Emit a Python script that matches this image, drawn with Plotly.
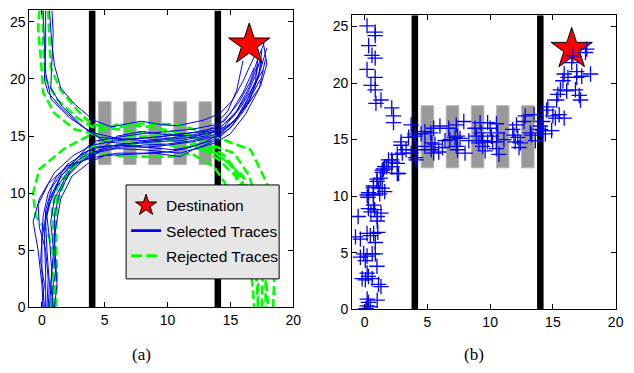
import plotly.graph_objects as go

# ---------------- data ----------------
wall_x = [4, 14]
crossing_x = [5, 7, 9, 11, 13]
crossing_y = [12.5, 18]
dest_x = [16.5]
dest_y = [23]

sel_x = [
    [0.6, 0.8, 1.0, 1.5, 2.6, 4.1, 5.5, 7.9, 9.5, 10.8, 12.9, 14.2, 15.2, 16.0, 16.7, 17.2],
    [0.3, 0.3, 0.2, 0.5, 1.5, 3.0, 4.0, 6, 8, 10, 12, 14, 15.3, 16.3, 17.0, 17.4],
    [0.8, 0.9, 0.8, 0.7, 1.6, 3.6, 4.5, 6.5, 9, 11, 13, 14.5, 15.7, 16.6, 17.1, 17.7],
    [0.1, 0.2, 0.3, 0.74, 2.2, 4.1, 5, 7, 9, 11, 13, 14.5, 15.8, 16.8, 17.6],
    [0.1, 0.0, -0.3, -0.7, -0.2, 1.0, 2.5, 4, 6, 8, 10, 12, 13.8, 15, 16.0, 16.9],
    [0.3, 0.3, 0.2, 0.3, 0.8, 2, 4, 6, 8, 10, 12, 14, 15.5, 16.5, 17.3, 17.9],
    [0.5, 0.6, 0.4, 0.3, 0.6, 1.5, 3, 4, 6, 8, 10, 11.5, 13, 14.2, 15.5, 16.5, 17.4],
    [0.8, 0.9, 1.1, 0.9, 0.7, 1.0, 1.8, 3.2, 4.2, 6, 8, 10, 12, 14, 15.2, 16.4, 17.4, 17.9, 17.6],
    [0.2, 0.0, 0.0, 0.1, 0.5, 1.2, 2.6, 4.0, 6, 8, 10, 12, 13.8, 14.8, 15.5, 16.0],
    [0.6, 0.8, 0.6, 0.4, 0.8, 1.6, 3.0, 4.1, 6, 8, 10, 12, 14, 15.5, 16.5, 17.2],
    [1.0, 1.2, 1.1, 1.0, 1.0, 1.4, 2.2, 3.6, 4.5, 6.5, 8.5, 10.5, 12, 13.5, 15, 16.2, 17.0, 17.5],
    [0.4, 0.5, 0.3, -0.2, -0.3, 0.5, 2.0, 4.0, 6, 8, 10, 11, 12.5, 14, 15.2, 16.2, 17.0, 17.2],
    [0.9, 0.7, 0.9, 1.1, 1.5, 2.4, 3.8, 5, 7, 9, 11, 12, 13.8, 15.0, 16.2, 17.3, 17.8],
    [0.0, 0.2, -0.1, 0.0, 0.4, 1.2, 2.6, 4.2, 6, 8, 10, 12, 14, 15.3, 16.5, 17.3, 17.5],
]
sel_y = [
    [26, 23, 21.2, 19.2, 17.8, 16.4, 15.8, 16.3, 16.0, 15.9, 16.4, 17.0, 18.2, 19.8, 21.5, 22.6],
    [26, 23, 19.9, 18.8, 17.5, 16.0, 15.3, 14.8, 14.6, 14.8, 15.1, 15.6, 16.8, 18.6, 20.3, 21.8],
    [26, 24, 21.5, 19.2, 17.6, 15.5, 14.9, 14.7, 14.9, 15.2, 15.4, 16.3, 18.0, 19.8, 21.5, 23.2],
    [26, 22.5, 20.5, 18.2, 16.6, 15.2, 14.5, 14.3, 14.5, 14.6, 15.0, 15.8, 17.5, 19.3, 20.8],
    [0, 2, 5, 7.5, 9.5, 11.8, 13.3, 14.2, 14.6, 14.8, 15.0, 15.3, 15.7, 17.0, 18.8, 21.0],
    [0, 3, 6, 8.5, 10.5, 12.5, 13.9, 14.2, 14.0, 14.2, 14.5, 15.0, 16.6, 18.5, 20.5, 22.7],
    [0, 2, 5, 7.5, 9.5, 11.5, 13, 13.6, 13.9, 13.8, 13.6, 13.9, 14.5, 15.2, 16.5, 18.2, 20],
    [0, 2, 3, 5, 7.5, 9.5, 11.2, 12.8, 13.5, 14.0, 14.2, 14.3, 14.6, 15.2, 16.2, 17.8, 19.4, 21.3, 23.3],
    [0, 3, 6, 8, 10, 11.5, 12.8, 14.5, 14.9, 15.2, 15.4, 15.6, 16.0, 17.2, 19.0, 21.6],
    [0, 3, 6, 8, 9.8, 11.6, 13.3, 14.0, 14.2, 14.5, 14.7, 14.9, 15.5, 17.2, 19.3, 21.3],
    [0, 2, 4, 6, 8, 10, 11.8, 13.2, 13.8, 14.2, 14.0, 13.8, 14.1, 14.6, 15.7, 17.4, 19.5, 21.5],
    [0, 2.5, 5, 7, 9, 10.8, 12.4, 13.1, 13.5, 13.5, 13.6, 13.5, 14.0, 14.7, 16.0, 17.8, 19.8, 22.0],
    [0, 2, 4.5, 7, 9.5, 11.5, 12.7, 13.3, 13.4, 13.5, 13.2, 13.8, 14.4, 15.2, 16.9, 19.2, 21.8],
    [0, 2, 4, 6, 8.5, 10.6, 12.5, 13.3, 15.0, 15.4, 15.1, 15.0, 15.4, 16.3, 18.0, 20.5, 22.5],
]

rej_x = [
    [-0.2, -0.3, -0.05, 0.1, 1.0, 2.6, 4.0, 6, 8, 10.8, 12.4, 13.9, 15.0, 16.6, 17.9, 18.6, 18.5, 18.4],
    [0.05, 0.1, 0.3, 1.2, 2.8, 4, 6, 8, 10, 12, 13.5, 15.3, 16.5, 17.4, 17.8, 17.8],
    [0.5, 0.6, 0.7, 1.5, 2.8, 4.0, 6, 8, 10, 12, 13.2, 14.5, 15.8, 16.8, 17.2, 17.2],
    [1.0, 1.1, 0.9, 0.5, -0.5, -0.7, -0.2, 1.8, 4.0, 6, 8, 10, 12, 13.9, 16.0, 17.0, 17.6, 17.5],
    [0.9, 1.1, 1.0, 0.8, 1.2, 2.5, 4, 6.6, 10.3, 11.85, 13.7, 14.5, 15.8, 16.6, 16.9],
    [0.7, 0.9, 1.0, 0.9, 1.3, 2.4, 4, 6, 8, 10, 12, 13.5, 15, 16.3, 17.3, 17.8, 18.0],
    [1.1, 1.2, 1.1, 1.2, 2.0, 3.5, 4.5, 7, 9, 11, 12.5, 14, 15.4, 16.5, 17.0, 17.2],
]
rej_y = [
    [26, 24.4, 21.3, 18.8, 17.0, 15.6, 15.2, 16.0, 16.1, 16.0, 15.5, 14.9, 14.5, 13.8, 10.9, 7, 3, 0],
    [26, 23, 20, 18.2, 16.6, 15.8, 15.6, 15.3, 15.2, 14.9, 14.2, 13.5, 11.5, 8, 4, 0],
    [26, 23.5, 21, 19, 17.3, 16.0, 15.8, 15.9, 15.5, 15.0, 14.3, 13.3, 11.5, 8, 4, 0],
    [0, 2, 4.6, 6.5, 8, 10, 12.1, 13.9, 15.2, 14.6, 14.4, 14.2, 14.0, 13.5, 11.5, 8, 4, 0],
    [0, 3, 6, 8.5, 10.5, 12.5, 13.6, 13.2, 13.2, 13.5, 12.3, 11, 8, 4, 0],
    [0, 2.5, 5, 7.5, 10, 12.2, 14.0, 14.2, 14.4, 14.7, 14.4, 13.8, 12.5, 10, 6, 3, 0],
    [0, 3, 6, 9, 11.8, 13.5, 14.5, 14.9, 15.0, 14.6, 14.0, 13.0, 11.5, 8, 4, 0],
]

pts_x = [0.19, 0.84, 0.84, 0.32, 0.58, 0.84, 0.19, 0.84, 0.5, 0.84, 0.9, 1.3, 2.16, 2.3, 2.3,
         3.7, 4.0, 4.0, 3.5, 4.1, 4.05, 4.1, 4.5, 4.8, 2.9, 3.3, 3.7, 3.0, 2.6, 2.9, 2.16, 2.16,
         1.76, 1.5, 1.4, 2.6, 2.7, 1.25, 1.0, 0.7, 1.4, 1.6, 0.2,
         5.26, 5.5, 6.0, 5.35, 5.6, 5.3, 5.5, 5.9, 6.2, 6.7, 6.8, 6.4, 7.2, 7.3, 7.9, 7.3, 7.4,
         7.4, 7.6, 8.3, 8.0, 8.8, 8.9, 9.1, 9.2, 9.3, 9.4, 9.4, 9.6, 9.8, 10.0, 10.1, 10.2, 9.8,
         10.5, 10.6, 10.5, 10.5, 10.7, 11.1, 11.8, 11.9, 12.1, 12.0, 12.2, 12.3, 12.4, 12.7,
         12.8, 13.2, 13.3, 13.5, 13.6, 4.8,
         14.0, 14.0, 14.2, 14.2, 14.5, 14.6, 14.4, 14.9, 15.0, 15.2, 15.3, 15.4, 15.6, 15.5,
         15.9, 15.8, 15.9, 16.1, 16.2, 16.5, 16.6, 16.8, 16.9, 16.9, 17.1, 17.2, 17.3, 17.6,
         17.7, 18.0,
         -0.52, -0.73, -0.34, 0.19, 0.45, 0.72, 1.05, 0.85, 0.32, 0.26, 0.7, 1.1, 1.2, 0.7,
         0.3, 0.5, 0.8, 1.0, 1.3, 1.0, 0.7, 0.98, 1.4, 1.6, 1.9, 2.2, 2.6, -0.34, -0.08, 0.19,
         0.6, 0.85, 0.05, 0.98, -0.2, 0.06, 0.3, 0.6, 0.2, 1.1, 1.3, 0.2, 0.3, 0.2, 0.1, 1.0,
         0.45]
pts_y = [25.05, 24.5, 24.2, 23.3, 22.45, 22.2, 21.2, 20.5, 19.8, 19.4, 18.2, 18.5, 17.8, 17.1,
         16.5, 16.3, 15.5, 15.3, 15.2, 14.1, 13.4, 13.2, 15.5, 14.4, 14.8, 14.1, 13.8, 13.8,
         13.7, 14.5, 13.2, 12.6, 12.6, 12.4, 12.1, 12.9, 12.0, 11.6, 11.3, 10.8, 10.7, 10.4,
         10.1,
         15.6, 16.0, 16.2, 14.7, 14.6, 14.1, 13.8, 13.9, 14.3, 16.0, 15.0, 14.9, 15.2, 16.3,
         16.6, 14.4, 14.1, 15.3, 15.1, 14.9, 13.8, 16.0, 15.3, 14.7, 16.5, 15.6, 14.4, 14.9,
         14.0, 16.5, 16.0, 15.3, 14.8, 14.8, 16.4, 15.6, 14.8, 14.2, 13.7, 15.0, 15.9, 15.4,
         16.3, 14.8, 15.2, 14.3, 14.7, 16.6, 17.1, 15.6, 15.4, 17.2, 14.9, 15.7,
         15.9, 16.2, 16.6, 15.8, 17.6, 17.9, 15.5, 15.8, 17.1, 16.9, 18.5, 19.0, 19.4, 17.2,
         16.9, 20.2, 20.8, 19.3, 20.5, 21.8, 22.4, 19.4, 20.5, 21.0, 18.9, 18.5, 20.6, 22.7,
         23.0, 20.8,
         8.2, 6.4, 6.2, 6.7, 6.5, 6.7, 6.8, 5.9, 10.3, 9.9, 10.1, 10.7, 10.2, 9.2, 8.9, 8.6,
         8.8, 8.2, 8.5, 7.8, 10.9, 11.5, 12.3, 12.6, 13.2, 13.0, 12.0, 4.6, 4.9, 4.7, 4.9, 4.9,
         4.3, 3.8, 2.7, 2.6, 2.9, 2.7, 3.2, 2.2, 2.0, 0.9, 0.6, 0.3, 0.05, 0.8, 0.2]

x_ticks = [0, 5, 10, 15, 20]
y_ticks = [0, 5, 10, 15, 20, 25]
legend_names = ["Destination", "Selected Traces", "Rejected Traces"]

# ---------------- style ----------------
BLUE = "#0000ff"
GREEN = "#00ff00"
W, H = 634, 373
FONT = "Liberation Sans, Arial, sans-serif"
SERIF = "Liberation Serif, Times New Roman, serif"

fig = go.Figure()

# panel (a): rejected traces (green dashed)
for xs, ys in zip(rej_x, rej_y):
    fig.add_trace(go.Scatter(
        x=xs, y=ys, mode="lines", xaxis="x", yaxis="y",
        line=dict(color=GREEN, width=2.6, dash="9px,4px"),
        showlegend=False, hoverinfo="skip"))

# panel (a): selected traces (blue)
for xs, ys in zip(sel_x, sel_y):
    fig.add_trace(go.Scatter(
        x=xs, y=ys, mode="lines", xaxis="x", yaxis="y",
        line=dict(color=BLUE, width=1),
        showlegend=False, hoverinfo="skip"))

# destination star in (a)
fig.add_trace(go.Scatter(
    x=dest_x, y=dest_y, mode="markers", xaxis="x", yaxis="y",
    marker=dict(symbol="star", size=31, color="#ff0000",
                line=dict(color="black", width=1)),
    name=legend_names[0], legendgroup="g1", showlegend=True))

# legend-only samples (no data points) with legend-style widths
fig.add_trace(go.Scatter(
    x=[None], y=[None], mode="lines", xaxis="x", yaxis="y",
    line=dict(color=BLUE, width=2.6),
    name=legend_names[1], legendgroup="g2", showlegend=True))
fig.add_trace(go.Scatter(
    x=[None], y=[None], mode="lines", xaxis="x", yaxis="y",
    line=dict(color=GREEN, width=3, dash="11px,4px"),
    name=legend_names[2], legendgroup="g3", showlegend=True))

# panel (b): destination then points
fig.add_trace(go.Scatter(
    x=dest_x, y=dest_y, mode="markers", xaxis="x2", yaxis="y2",
    marker=dict(symbol="star", size=31, color="#ff0000",
                line=dict(color="black", width=1)),
    showlegend=False))
fig.add_trace(go.Scatter(
    x=pts_x, y=pts_y, mode="markers", xaxis="x2", yaxis="y2",
    marker=dict(symbol="cross-thin", size=11, color=BLUE,
                line=dict(color=BLUE, width=1.3)),
    showlegend=False))

# walls and crossings as shapes (below traces)
shapes = []
for xr, yr in (("x", "y"), ("x2", "y2")):
    for cx in crossing_x:
        shapes.append(dict(type="rect", xref=xr, yref=yr, layer="below",
                           x0=cx - 0.5, x1=cx + 0.5, y0=crossing_y[0], y1=crossing_y[1],
                           fillcolor="#999999", line=dict(color="#b5b5b5", width=1)))
    for wx in wall_x:
        shapes.append(dict(type="rect", xref=xr, yref=yr, layer="below",
                           x0=wx - 0.26, x1=wx + 0.26, y0=0, y1=26,
                           fillcolor="black", line=dict(width=0)))

# legend box (drawn above the traces, legend text sits on top of it)
LEG_L, LEG_R, LEG_T, LEG_B = 127.7, 282.7, 189, 285
shapes.append(dict(type="rect", xref="paper", yref="paper", layer="above",
                   x0=LEG_L / W, x1=LEG_R / W, y0=1 - LEG_B / H, y1=1 - LEG_T / H,
                   fillcolor="#e6e6e6", line=dict(color="black", width=1)))


def ax(domain, anchor, ticks_vals, rng):
    return dict(domain=domain, anchor=anchor, range=rng, tickvals=ticks_vals,
                ticks="inside", ticklen=5, tickcolor="black", tickwidth=1,
                showline=True, linecolor="black", linewidth=1, mirror="ticks",
                showgrid=False, zeroline=False,
                tickfont=dict(family=FONT, size=14, color="black"),
                fixedrange=True)


fig.update_layout(
    width=W, height=H, autosize=False,
    margin=dict(l=0, r=0, t=0, b=0),
    paper_bgcolor="white", plot_bgcolor="white",
    shapes=shapes,
    xaxis=ax([29.7 / W, 297 / W], "y", x_ticks, [-1, 20]),
    yaxis=ax([1 - 314 / H, 1 - 10.7 / H], "x", y_ticks, [0, 26]),
    xaxis2=ax([356.6 / W, 623.5 / W], "y2", x_ticks, [-1, 20]),
    yaxis2=ax([1 - 316 / H, 1 - 15.5 / H], "x2", y_ticks, [0, 26]),
    legend=dict(x=LEG_L / W, y=1 - 193 / H, xanchor="left", yanchor="top",
                bgcolor="rgba(0,0,0,0)", borderwidth=0,
                font=dict(family=FONT, size=15.5, color="black"),
                tracegroupgap=2, traceorder="grouped", itemwidth=30),
    annotations=[
        dict(text="(a)", x=143 / W, y=1 - 362 / H, xref="paper", yref="paper",
             xanchor="center", yanchor="middle", showarrow=False,
             font=dict(family=SERIF, size=17, color="black")),
        dict(text="(b)", x=480 / W, y=1 - 362 / H, xref="paper", yref="paper",
             xanchor="center", yanchor="middle", showarrow=False,
             font=dict(family=SERIF, size=17, color="black")),
    ],
)

fig.write_html("out.html")
